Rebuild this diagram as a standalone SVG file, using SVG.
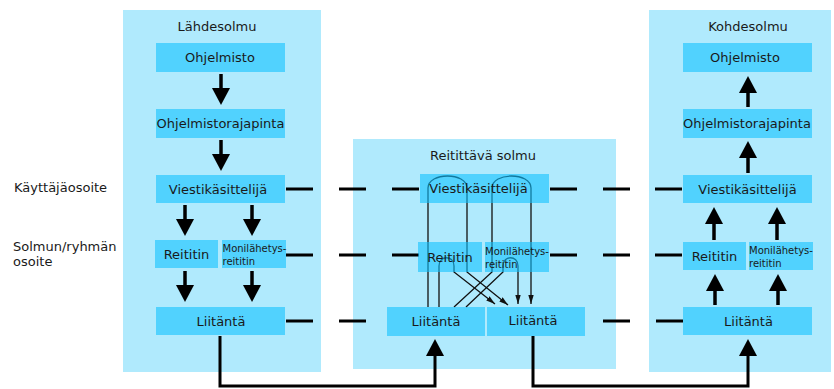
<svg xmlns="http://www.w3.org/2000/svg" width="834" height="389" viewBox="0 0 834 389">
<style>
text{font-family:"DejaVu Sans","Liberation Sans",sans-serif;font-size:13px;fill:#1a1a1a}
.sm{font-size:10px}
.panel{fill:#b0eafd}
.box{fill:#13c2ff;fill-opacity:0.6}
.big{stroke:#000;stroke-width:3.5;fill:none}
.dash{stroke:#000;stroke-width:3;fill:none}
.thin{stroke:#111;stroke-width:1.3;fill:none}
</style>
<defs>
<marker id="bh" markerUnits="userSpaceOnUse" markerWidth="18" markerHeight="18" refX="1" refY="9" orient="auto" viewBox="0 0 18 18">
<path d="M0,0 L17,9 L0,18 z" fill="#000"/>
</marker>
<marker id="sh" markerUnits="userSpaceOnUse" markerWidth="9" markerHeight="6" refX="9" refY="3" orient="auto" viewBox="0 0 9 6">
<path d="M0,0.3 L9,3 L0,5.7 z" fill="#111"/>
</marker>
</defs>

<g id="panel-lahde">
<rect class="panel" x="123" y="10" width="198" height="362"/>
<text x="217" y="31" text-anchor="middle">Lähdesolmu</text>
</g>
<g id="panel-reitittava">
<rect class="panel" x="353" y="139" width="263" height="230"/>
<text x="483" y="160" text-anchor="middle">Reitittävä solmu</text>
</g>
<g id="panel-kohde">
<rect class="panel" x="649" y="10" width="182" height="362"/>
<text x="748" y="31" text-anchor="middle">Kohdesolmu</text>
</g>
<g id="labels">
<text x="14" y="192">Käyttäjäosoite</text>
<text x="13" y="251">Solmun/ryhmän</text>
<text x="13" y="266">osoite</text>
</g>

<g id="connectors">
<path class="big" d="M221,74 V89" marker-end="url(#bh)"/>
<path class="big" d="M221,140 V155" marker-end="url(#bh)"/>
<path class="big" d="M185,205 V220" marker-end="url(#bh)"/>
<path class="big" d="M252,205 V220" marker-end="url(#bh)"/>
<path class="big" d="M185,271 V286" marker-end="url(#bh)"/>
<path class="big" d="M252,271 V286" marker-end="url(#bh)"/>
<path class="big" d="M748,107 V92" marker-end="url(#bh)"/>
<path class="big" d="M748,173 V157" marker-end="url(#bh)"/>
<path class="big" d="M714,240 V223" marker-end="url(#bh)"/>
<path class="big" d="M777,240 V223" marker-end="url(#bh)"/>
<path class="big" d="M715,305 V290" marker-end="url(#bh)"/>
<path class="big" d="M778,305 V290" marker-end="url(#bh)"/>
<path class="dash" d="M220,336 V386 H435 V355" stroke-linejoin="miter" marker-end="url(#bh)"/>
<path class="dash" d="M533,336 V386 H748 V355" stroke-linejoin="miter" marker-end="url(#bh)"/>
<path class="dash" d="M286,189 H313 M339,189 H366 M392,189 H419 M550,189 H577 M603,189 H630 M655,189 H682"/>
<path class="dash" d="M286,255 H313 M339,255 H366 M392,255 H419 M550,255 H577 M603,255 H630 M655,255 H682"/>
<path class="dash" d="M286,321 H313 M339,321 H366 M603,321 H630 M656,321 H683"/>
<path class="thin" d="M428,307 V188 C428,172 467,172 467,188 V272 L508,305" marker-end="url(#sh)"/>
<path class="thin" d="M439,307 V266 C439,255 454,255 454,266 V272 L495,304" marker-end="url(#sh)"/>
<path class="thin" d="M454,307 L492,272 V188 C492,172 531,172 531,188 V304" marker-end="url(#sh)"/>
<path class="thin" d="M466,307 L503,272 V266 C503,255 518,255 518,266 V304" marker-end="url(#sh)"/>
</g>

<g id="src-ohjelmisto"><rect class="box" x="156" y="43" width="129" height="29"/><text x="220" y="62" text-anchor="middle">Ohjelmisto</text></g>
<g id="src-rajapinta"><rect class="box" x="156" y="109" width="129" height="29"/><text x="220.5" y="128" text-anchor="middle">Ohjelmistorajapinta</text></g>
<g id="src-viesti"><rect class="box" x="156" y="175" width="129" height="28"/><text x="218" y="194" text-anchor="middle">Viestikäsittelijä</text></g>
<g id="src-reititin"><rect class="box" x="155" y="240" width="63" height="28"/><text x="186.5" y="259" text-anchor="middle">Reititin</text></g>
<g id="src-moni"><rect class="box" x="222" y="240" width="64" height="28"/><text class="sm" x="222.5" y="252">Monilähetys-</text><text class="sm" x="222.5" y="265">reititin</text></g>
<g id="src-liitanta"><rect class="box" x="156" y="307" width="129" height="28"/><text x="221" y="326" text-anchor="middle">Liitäntä</text></g>

<g id="rt-viesti"><rect class="box" x="420" y="174" width="129" height="29"/><text x="478.5" y="193" text-anchor="middle">Viestikäsittelijä</text></g>
<g id="rt-reititin"><rect class="box" x="418" y="242" width="64" height="30"/><text x="450" y="262" text-anchor="middle">Reititin</text></g>
<g id="rt-moni"><rect class="box" x="485" y="242" width="64" height="30"/><text class="sm" x="485" y="255">Monilähetys-</text><text class="sm" x="485" y="268">reititin</text></g>
<g id="rt-liitanta1"><rect class="box" x="387" y="307" width="98" height="29"/><text x="436" y="326" text-anchor="middle">Liitäntä</text></g>
<g id="rt-liitanta2"><rect class="box" x="487" y="307" width="98" height="29"/><text x="533" y="325" text-anchor="middle">Liitäntä</text></g>

<g id="dst-ohjelmisto"><rect class="box" x="683" y="43" width="129" height="29"/><text x="745" y="62" text-anchor="middle">Ohjelmisto</text></g>
<g id="dst-rajapinta"><rect class="box" x="683" y="109" width="129" height="29"/><text x="747" y="128" text-anchor="middle">Ohjelmistorajapinta</text></g>
<g id="dst-viesti"><rect class="box" x="683" y="175" width="129" height="28"/><text x="747.5" y="194" text-anchor="middle">Viestikäsittelijä</text></g>
<g id="dst-reititin"><rect class="box" x="683" y="242" width="63" height="28"/><text x="714.5" y="261" text-anchor="middle">Reititin</text></g>
<g id="dst-moni"><rect class="box" x="749" y="242" width="64" height="28"/><text class="sm" x="749" y="254">Monilähetys-</text><text class="sm" x="749" y="267">reititin</text></g>
<g id="dst-liitanta"><rect class="box" x="683" y="307" width="129" height="28"/><text x="748.5" y="326" text-anchor="middle">Liitäntä</text></g>
</svg>
